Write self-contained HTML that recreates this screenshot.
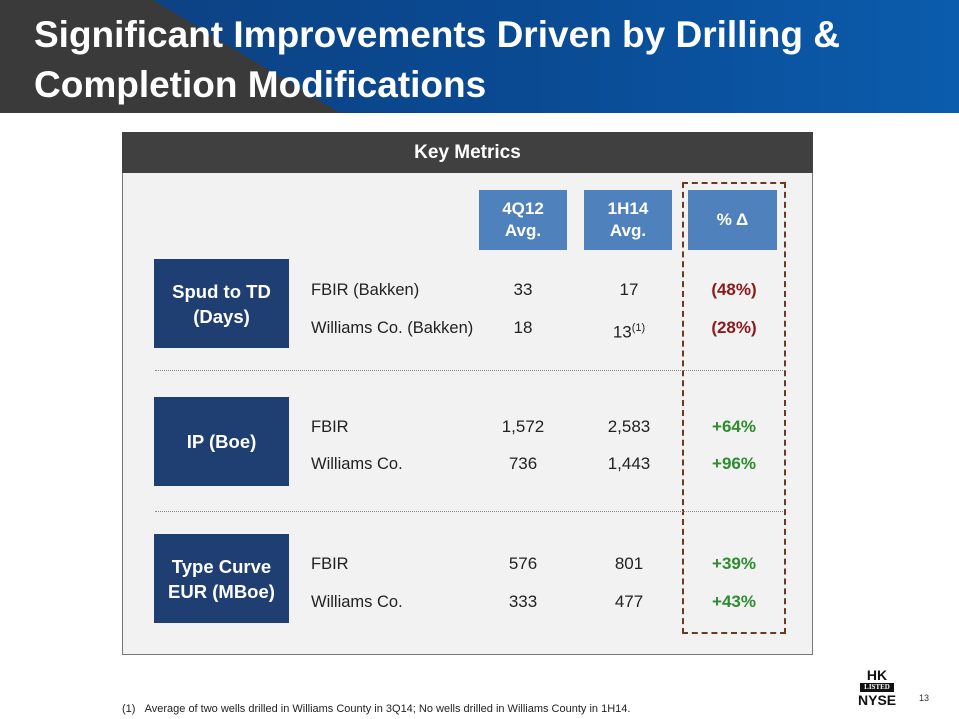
<!DOCTYPE html>
<html><head><meta charset="utf-8">
<style>
*{margin:0;padding:0;box-sizing:border-box}
body{width:959px;height:719px;position:relative;background:#fff;font-family:"Liberation Sans",sans-serif;overflow:hidden}
.a{position:absolute}
.hdr{left:0;top:0;width:959px;height:113px;background:linear-gradient(90deg,#0d3f7e 0%,#0a4a93 55%,#0b5cad 100%)}
.tri{left:0;top:0;width:340px;height:113px;background:#3a3a3a;clip-path:polygon(0 0,45% 0,100% 100%,0 100%)}
.title{left:34px;top:10px;color:#fff;font-size:37px;font-weight:bold;line-height:50px;letter-spacing:0px}
.panel{left:122px;top:132px;width:691px;height:523px;background:#f2f2f2;border:1.5px solid #777}
.pt{left:122px;top:132px;width:691px;height:41px;background:#404040;color:#fff;font-weight:bold;font-size:19px;text-align:center;line-height:42px}
.ch{background:#4f81bd;color:#fff;font-weight:bold;font-size:17px;text-align:center;display:flex;align-items:center;justify-content:center;line-height:22px;top:190px;height:60px}
.cat{left:154px;width:135px;height:89px;background:#1f3f73;color:#fff;font-weight:bold;font-size:18.5px;text-align:center;display:flex;align-items:center;justify-content:center;line-height:25px}
.lbl{left:311px;font-size:16.5px;color:#222;line-height:20px}
.v{font-size:17px;color:#222;width:90px;text-align:center;line-height:20px}
.p{font-size:17px;font-weight:bold;width:90px;text-align:center;line-height:20px}
.neg{color:#8b1a1a}.pos{color:#2e8b2e}
.dot{left:155px;width:628px;border-top:1.5px dotted #888}
.dash{left:682px;top:182px;width:104px;height:452px;border:2px dashed #6b3a1f}
</style></head><body>
<div class="a hdr"></div>
<div class="a tri"></div>
<div class="a title">Significant Improvements Driven by Drilling &amp;<br>Completion Modifications</div>
<div class="a panel"></div>
<div class="a pt">Key Metrics</div>
<div class="a ch" style="left:479px;width:88px">4Q12<br>Avg.</div>
<div class="a ch" style="left:584px;width:88px">1H14<br>Avg.</div>
<div class="a ch" style="left:688px;width:89px">% Δ</div>
<div class="a dash"></div>
<div class="a cat" style="top:259px">Spud to TD<br>(Days)</div>
<div class="a cat" style="top:397px">IP (Boe)</div>
<div class="a cat" style="top:534px">Type Curve<br>EUR (MBoe)</div>
<div class="a dot" style="top:370px"></div>
<div class="a dot" style="top:511px"></div>

<div class="a lbl" style="top:280px">FBIR (Bakken)</div>
<div class="a v" style="left:478px;top:280px">33</div>
<div class="a v" style="left:584px;top:280px">17</div>
<div class="a p neg" style="left:689px;top:280px">(48%)</div>
<div class="a lbl" style="top:318px">Williams Co. (Bakken)</div>
<div class="a v" style="left:478px;top:318px">18</div>
<div class="a v" style="left:584px;top:318px">13<sup style="font-size:11px">(1)</sup></div>
<div class="a p neg" style="left:689px;top:318px">(28%)</div>

<div class="a lbl" style="top:417px">FBIR</div>
<div class="a v" style="left:478px;top:417px">1,572</div>
<div class="a v" style="left:584px;top:417px">2,583</div>
<div class="a p pos" style="left:689px;top:417px">+64%</div>
<div class="a lbl" style="top:454px">Williams Co.</div>
<div class="a v" style="left:478px;top:454px">736</div>
<div class="a v" style="left:584px;top:454px">1,443</div>
<div class="a p pos" style="left:689px;top:454px">+96%</div>

<div class="a lbl" style="top:554px">FBIR</div>
<div class="a v" style="left:478px;top:554px">576</div>
<div class="a v" style="left:584px;top:554px">801</div>
<div class="a p pos" style="left:689px;top:554px">+39%</div>
<div class="a lbl" style="top:592px">Williams Co.</div>
<div class="a v" style="left:478px;top:592px">333</div>
<div class="a v" style="left:584px;top:592px">477</div>
<div class="a p pos" style="left:689px;top:592px">+43%</div>

<div class="a" style="left:858px;top:668px;width:38px;text-align:center;font-weight:bold;font-size:14px;line-height:14px;color:#111">HK<div style="background:#111;color:#fff;font-size:7px;line-height:9px;font-family:'Liberation Serif',serif;margin:1px 2px">LISTED</div>NYSE</div>
<div class="a" style="left:919px;top:693px;font-size:9px;color:#333">13</div>
<div class="a" style="left:122px;top:703px;font-size:11px;color:#222">(1)&nbsp;&nbsp;&nbsp;Average of two wells drilled in Williams County in 3Q14; No wells drilled in Williams County in 1H14.</div>
</body></html>
